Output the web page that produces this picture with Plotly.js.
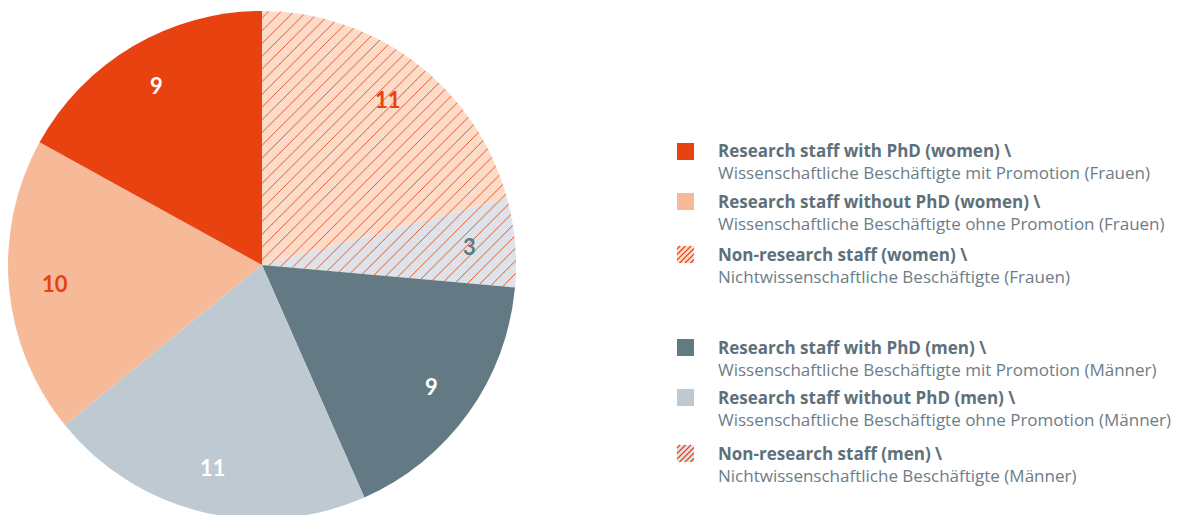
<!DOCTYPE html>
<html>
<head>
<meta charset="utf-8">
<script src="https://cdn.plot.ly/plotly-3.0.1.min.js"></script>
<style>
html,body{margin:0;padding:0;overflow:hidden;background:#fff;width:1181px;height:515px;}
#chart{width:1181px;height:530px;}
</style>
</head>
<body>
<div id="chart"></div>
<script>
// ---- data (pie order, clockwise from 12 o'clock) ----
const sliceLabels = [
  "Non-research staff (women)",
  "Non-research staff (men)",
  "Research staff with PhD (men)",
  "Research staff without PhD (men)",
  "Research staff without PhD (women)",
  "Research staff with PhD (women)"
];
const sliceValues = [11, 3, 9, 11, 10, 9];
const sliceColors = ["#fcdcc9", "#dde3e8", "#637a85", "#bec9d1", "#f7ba98", "#e84211"];
const slicePatterns = ["/", "/", "", "", "", ""];
const sliceTextColors = ["#e84211", "#637a85", "#ffffff", "#ffffff", "#e84211", "#ffffff"];

// ---- legend (display order) ----
const legendBold = [
  "Research staff with PhD (women) \\",
  "Research staff without PhD (women) \\",
  "Non-research staff (women) \\",
  "Research staff with PhD (men) \\",
  "Research staff without PhD (men) \\",
  "Non-research staff (men) \\"
];
const legendSub = [
  "Wissenschaftliche Beschäftigte mit Promotion (Frauen)",
  "Wissenschaftliche Beschäftigte ohne Promotion (Frauen)",
  "Nichtwissenschaftliche Beschäftigte (Frauen)",
  "Wissenschaftliche Beschäftigte mit Promotion (Männer)",
  "Wissenschaftliche Beschäftigte ohne Promotion (Männer)",
  "Nichtwissenschaftliche Beschäftigte (Männer)"
];
const legendSwatch = ["#e84211", "#f7ba98", "#fcdcc9", "#637a85", "#bec9d1", "#dde3e8"];
const legendHatched = [false, false, true, false, false, true];

const W = 1181, H = 530;
const px = x => x / W;
const py = y => 1 - y / H;

const orange = "#e84211";
const legendRowY = [151, 201, 254, 347, 397, 453];
const shapes = [];
const annotations = [];
legendRowY.forEach((y, i) => {
  const x0 = 677, s = 17, y0 = y - 8;
  shapes.push({type: "rect", xref: "paper", yref: "paper",
    x0: px(x0), x1: px(x0 + s), y0: py(y0), y1: py(y0 + s),
    fillcolor: legendSwatch[i], line: {width: 0}});
  if (legendHatched[i]) {
    let path = "";
    for (let c = x0 + y0 + 3; c < x0 + y0 + 2 * s; c += 5.5) {
      const xa = Math.max(x0, c - (y0 + s)), xb = Math.min(x0 + s, c - y0);
      path += `M${px(xa)},${py(c - xa)} L${px(xb)},${py(c - xb)} `;
    }
    shapes.push({type: "path", xref: "paper", yref: "paper", path: path,
      line: {color: orange, width: 1.1}});
  }
  annotations.push({xref: "paper", yref: "paper", x: px(716), y: py(y + 11),
    xanchor: "left", yanchor: "middle", align: "left", showarrow: false,
    text: "<b>" + legendBold[i] + "</b><br><span style=\"color:#6c7d87\">" + legendSub[i] + "</span>",
    font: {family: "Open Sans", size: 17, color: "#5e707a"}});
});

// ---- pie geometry (domain) ----
const cx = 262, cy = 265, R = 254;

// value labels placed at each slice's mid-angle, derived from the data
const total = sliceValues.reduce((a, b) => a + b, 0);
let cum = 0;
sliceValues.forEach((v, i) => {
  const mid = (cum + v / 2) / total * 2 * Math.PI;
  cum += v;
  const r = 0.82 * R;
  annotations.push({xref: "paper", yref: "paper",
    x: px(cx + r * Math.sin(mid)), y: py(cy - r * Math.cos(mid)),
    xanchor: "center", yanchor: "middle", showarrow: false,
    text: "<b>" + v + "</b>",
    font: {family: "Lato", size: 22, color: sliceTextColors[i]}});
});

const trace = {
  type: "pie",
  labels: sliceLabels,
  values: sliceValues,
  sort: false,
  direction: "clockwise",
  rotation: 0,
  domain: {x: [px(cx - R), px(cx + R)], y: [0, 1]},
  marker: {
    colors: sliceColors,
    line: {width: 0},
    pattern: {
      shape: slicePatterns,
      fgcolor: orange,
      bgcolor: sliceColors,
      size: 9,
      solidity: 0.1
    }
  },
  textinfo: "none",
  hoverinfo: "label+value",
  showlegend: false
};

const layout = {
  width: W, height: H,
  margin: {l: 0, r: 0, t: 0, b: 0},
  paper_bgcolor: "#ffffff",
  showlegend: false,
  shapes: shapes,
  annotations: annotations
};

Plotly.newPlot("chart", [trace], layout, {displayModeBar: false, staticPlot: true});
</script>
</body>
</html>
